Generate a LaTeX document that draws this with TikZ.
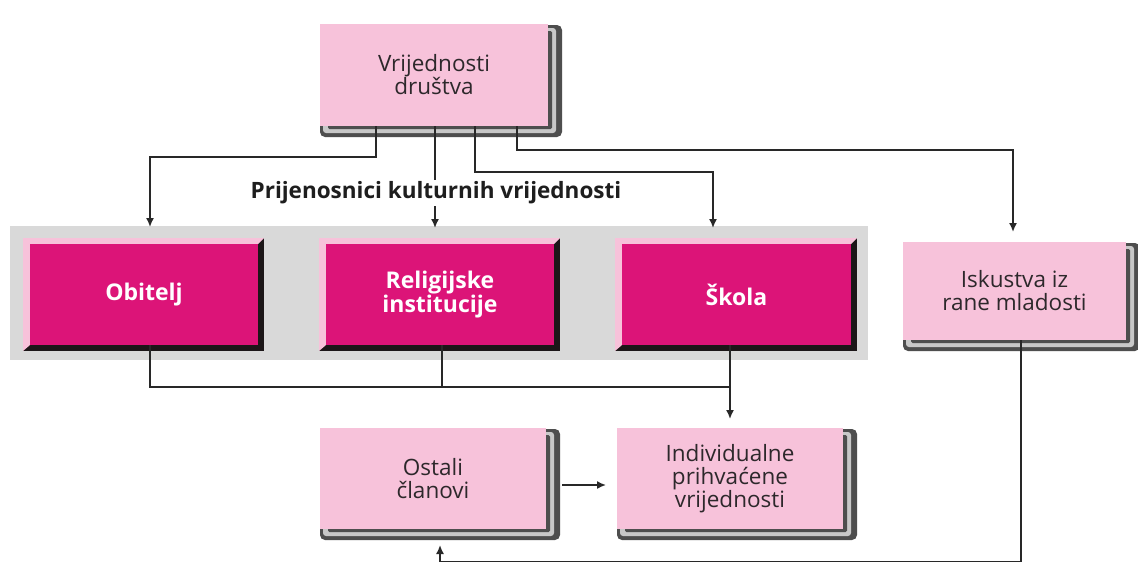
\documentclass[tikz,border=0pt]{standalone}
\usepackage{fontspec}
\setmainfont{Open Sans}
\usetikzlibrary{calc,arrows.meta}
\pgfdeclarelayer{bg}
\pgfsetlayers{bg,main}
\definecolor{pinkbox}{RGB}{247,194,218}
\definecolor{magbox}{RGB}{220,20,120}
\definecolor{panel}{RGB}{217,217,217}
\definecolor{framedark}{RGB}{78,78,78}
\definecolor{framelight}{RGB}{200,200,200}
\definecolor{bevdark}{RGB}{28,22,24}
\definecolor{linec}{RGB}{40,40,40}
\definecolor{txt}{RGB}{45,40,43}
\tikzset{
  pinknode/.style={fill=pinkbox, minimum width=226pt, minimum height=101pt, inner sep=0pt, outer sep=0pt, align=center, text=txt, font=\fontsize{22.5}{23}\selectfont},
  magnode/.style={fill=magbox, minimum width=228pt, minimum height=101pt, inner sep=0pt, outer sep=0pt, align=center, text=white, font=\bfseries\fontsize{23}{24}\selectfont},
  lblnode/.style={inner xsep=4pt, inner ysep=2pt, text={rgb,255:red,30;green,30;blue,30}, font=\bfseries\fontsize{22.5}{23}\selectfont},
  conn/.style={draw=linec, line width=1.6pt},
  arr/.style={conn, -{Latex[length=9pt,width=8pt]}},
}
\newcommand\shadowframe[1]{%
  \fill[framedark, rounded corners=5pt] ($(#1.north west)+(0,1)$) rectangle ($(#1.south east)+(14,11)$);
  \fill[framelight, rounded corners=3pt] ($(#1.north west)+(3,4)$) rectangle ($(#1.south east)+(8,7)$);
  \fill[framedark, rounded corners=1.5pt] ($(#1.north west)+(8,7)$) rectangle ($(#1.south east)+(4,3)$);
}
\newcommand\bevelframe[1]{%
  \fill[bevdark] ($(#1.north west)+(-7,-6)$) rectangle ($(#1.south east)+(6,6)$);
  \fill[pinkbox] ($(#1.north west)+(-7,-6)$) -- ($(#1.north east)+(6,-6)$) -- (#1.north east) -- (#1.north west) -- (#1.south west) -- ($(#1.south west)+(-7,6)$) -- cycle;
}
\begin{document}
\begin{tikzpicture}[x=1pt, y=-1pt]
\useasboundingbox (0,0) rectangle (1138,563);

% nodes
\node[pinknode, minimum width=228pt, minimum height=102pt] (vd) at (434,75) {\raisebox{-4pt}{Vrijednosti}\\\raisebox{-4pt}{društva}};
\node[lblnode] (lbl) at (436,193) {Prijenosnici kulturnih vrijednosti};
\node[magnode] (ob) at (144,294.5) {Obitelj};
\node[magnode] (re) at (440,294.5) {Religijske\\institucije};
\node[magnode, minimum width=229pt] (sk) at (736.5,294.5) {Škola};
\node[pinknode, minimum width=223pt, minimum height=98pt] (isk) at (1014.5,291) {Iskustva iz\\rane mladosti};
\node[pinknode] (os) at (433,478.5) {Ostali\\članovi};
\node[pinknode] (ind) at (730,478.5) {Individualne\\prihvaćene\\vrijednosti};

% background decorations
\begin{pgfonlayer}{bg}
  \fill[white] (0,0) rectangle (1138,563);
  \fill[panel] (10,226) rectangle (868,360);
  \shadowframe{vd}
  \shadowframe{isk}
  \shadowframe{os}
  \shadowframe{ind}
  \bevelframe{ob}
  \bevelframe{re}
  \bevelframe{sk}
\end{pgfonlayer}

% arrow ends
\coordinate (tOb) at (150,227);
\coordinate (tRe) at (435,228);
\coordinate (tSk) at (713,228);
\coordinate (tIs) at (1013,232);
\coordinate (j) at (730,387);

% connectors from the top box
\draw[arr] ([xshift=-58pt]vd.south) -- ++(0,31) -| (tOb);
\draw[conn] ([xshift=1pt]vd.south) -- ([xshift=1pt]vd.south |- lbl.north);
\draw[arr] ([xshift=1pt]vd.south |- lbl.south) -- (tRe);
\draw[arr] ([xshift=41pt]vd.south) -- ++(0,46) -| (tSk);
\draw[arr] ([xshift=83pt]vd.south) -- ++(0,24) -| (tIs);

% transmitters to individual values
\draw[conn] ([xshift=6pt]ob.south) |- (j);
\draw[conn] ([xshift=2pt]re.south) -- ([xshift=2pt]re.south |- j);
\draw[arr] (sk.south -| j) -- ([yshift=9pt]ind.north);

% other members
\draw[arr] ([xshift=16pt,yshift=-6.5pt]os.east) -- ([xshift=-11pt,yshift=-6.5pt]ind.west);
\draw[arr] ([xshift=6.5pt]isk.south) |- ([xshift=7pt,yshift=-32.5pt]os.south) -- ([xshift=7pt,yshift=-16pt]os.south);
\end{tikzpicture}
\end{document}
